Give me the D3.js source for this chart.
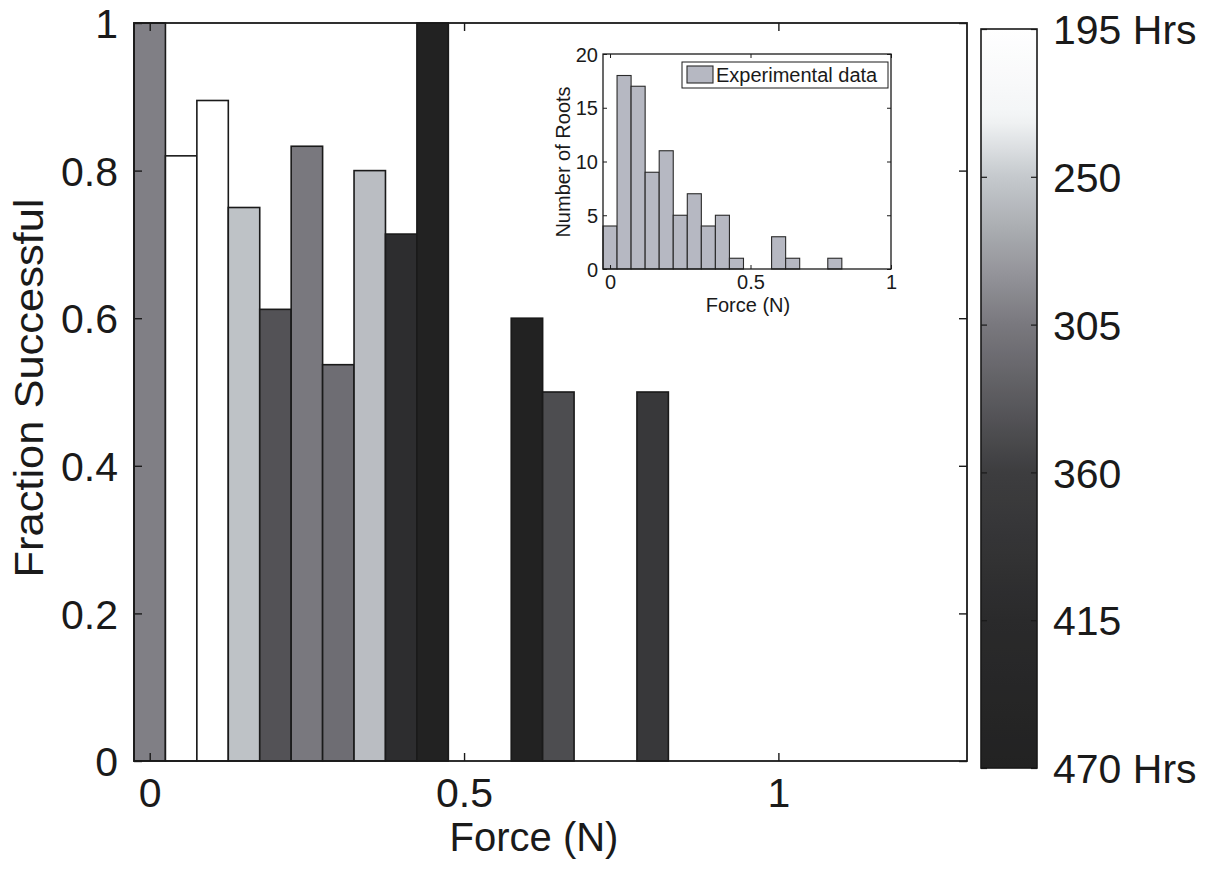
<!DOCTYPE html>
<html>
<head>
<meta charset="utf-8">
<script src="https://cdn.jsdelivr.net/npm/d3@7"></script>
<style>
  html, body { margin: 0; padding: 0; background: #ffffff; }
  svg { display: block; }
  text { font-family: "Liberation Sans", Arial, Helvetica, sans-serif; fill: #1a1a1a; }
</style>
</head>
<body>
<svg id="chart" width="1206" height="869"></svg>
<script>
// ---------------- data ----------------
const binCenters = [0, 0.05, 0.10, 0.15, 0.20, 0.25, 0.30, 0.35, 0.40, 0.45, 0.60, 0.65, 0.80];
const fractionSuccessful = [1.0, 0.82, 0.895, 0.75, 0.612, 0.833, 0.537, 0.80, 0.714, 1.0, 0.60, 0.50, 0.50];
const meanHours = [300, 195, 195, 255, 340, 305, 315, 258, 405, 470, 470, 345, 375];

const xTicks = [0, 0.5, 1];
const xTickLabels = ["0", "0.5", "1"];
const yTicks = [0, 0.2, 0.4, 0.6, 0.8, 1];
const yTickLabels = ["0", "0.2", "0.4", "0.6", "0.8", "1"];

const colorbarTicks = [195, 250, 305, 360, 415, 470];
const colorbarLabels = ["195 Hrs", "250", "305", "360", "415", "470 Hrs"];

// inset histogram
const insetCenters = [0, 0.05, 0.10, 0.15, 0.20, 0.25, 0.30, 0.35, 0.40, 0.45, 0.50, 0.55, 0.60, 0.65, 0.70, 0.75, 0.80];
const insetCounts = [4, 18, 17, 9, 11, 5, 7, 4, 5, 1, 0, 0, 3, 1, 0, 0, 1];
const insetXTicks = [0, 0.5, 1];
const insetXTickLabels = ["0", "0.5", "1"];
const insetYTicks = [0, 5, 10, 15, 20];
const insetYTickLabels = ["0", "5", "10", "15", "20"];

// ---------------- layout ----------------
const svg = d3.select("#chart");
const FONT_BIG = 41;
const binWidth = 0.05;

const main = { left: 134, right: 967, top: 23, bottom: 761 };
const x = d3.scaleLinear().domain([-0.025, 1.3]).range([main.left, main.right]);
const y = d3.scaleLinear().domain([0, 1]).range([main.bottom, main.top]);

// colormap (gray, as in the colorbar)
const cmap = d3.scaleLinear()
  .domain([195, 228, 250, 305, 360, 415, 470])
  .range(["#ffffff", "#f3f5f6", "#c5c9cd", "#79787e", "#3d3d3f", "#2a2a2b", "#222222"])
  .clamp(true);

// ---------------- main bars ----------------
const gMain = svg.append("g");
gMain.selectAll("rect.bar")
  .data(binCenters.map((c, i) => ({ c, v: fractionSuccessful[i], h: meanHours[i] })))
  .join("rect")
  .attr("class", "bar")
  .attr("x", d => x(d.c - binWidth / 2))
  .attr("width", d => x(d.c + binWidth / 2) - x(d.c - binWidth / 2))
  .attr("y", d => y(d.v))
  .attr("height", d => y(0) - y(d.v))
  .attr("fill", d => cmap(d.h))
  .attr("stroke", "#1a1a1a")
  .attr("stroke-width", 1.6);

// frame
gMain.append("rect")
  .attr("x", main.left).attr("y", main.top)
  .attr("width", main.right - main.left).attr("height", main.bottom - main.top)
  .attr("fill", "none").attr("stroke", "#1a1a1a").attr("stroke-width", 1.8);

// axes (inner ticks, MATLAB-like)
const tickLen = 8;
const axB = d3.axisBottom(x).tickValues(xTicks).tickFormat((d, i) => xTickLabels[i]).tickSize(-tickLen).tickPadding(17);
const gxB = gMain.append("g").attr("transform", `translate(0,${main.bottom})`).call(axB);
const axT = d3.axisTop(x).tickValues(xTicks).tickFormat("").tickSize(-tickLen);
const gxT = gMain.append("g").attr("transform", `translate(0,${main.top})`).call(axT);
const axL = d3.axisLeft(y).tickValues(yTicks).tickFormat((d, i) => yTickLabels[i]).tickSize(-tickLen).tickPadding(16);
const gyL = gMain.append("g").attr("transform", `translate(${main.left},0)`).call(axL);
const axR = d3.axisRight(y).tickValues(yTicks).tickFormat("").tickSize(-tickLen);
const gyR = gMain.append("g").attr("transform", `translate(${main.right},0)`).call(axR);

[gxB, gxT, gyL, gyR].forEach(g => {
  g.select(".domain").remove();
  g.selectAll(".tick line").attr("stroke", "#1a1a1a").attr("stroke-width", 1.4);
  g.selectAll("text").attr("font-size", FONT_BIG).attr("fill", "#1a1a1a")
    .attr("font-family", "\"Liberation Sans\", Arial, sans-serif");
});
gxB.selectAll("text").attr("dy", "0.71em");
gyL.selectAll("text").attr("dy", "0.36em");

// axis titles
gMain.append("text")
  .attr("x", 534).attr("y", 851)
  .attr("text-anchor", "middle")
  .attr("font-size", 40)
  .text("Force (N)");

gMain.append("text")
  .attr("transform", "translate(43,388) rotate(-90)")
  .attr("text-anchor", "middle")
  .attr("font-size", 40)
  .attr("textLength", 379)
  .attr("lengthAdjust", "spacingAndGlyphs")
  .text("Fraction Successful");

// ---------------- colorbar ----------------
const cb = { left: 981, right: 1037, top: 29, bottom: 768 };
const cbScale = d3.scaleLinear().domain([195, 470]).range([cb.top, cb.bottom]);
const defs = svg.append("defs");
const grad = defs.append("linearGradient")
  .attr("id", "cbgrad").attr("x1", 0).attr("y1", 0).attr("x2", 0).attr("y2", 1);
d3.range(195, 471, 5).forEach(h => {
  grad.append("stop")
    .attr("offset", (h - 195) / (470 - 195))
    .attr("stop-color", cmap(h));
});
const gCb = svg.append("g");
gCb.append("rect")
  .attr("x", cb.left).attr("y", cb.top)
  .attr("width", cb.right - cb.left).attr("height", cb.bottom - cb.top)
  .attr("fill", "url(#cbgrad)")
  .attr("stroke", "#1a1a1a").attr("stroke-width", 1.6);
const cbAxR = d3.axisRight(cbScale).tickValues(colorbarTicks).tickFormat((d, i) => colorbarLabels[i]).tickSize(-6).tickPadding(16);
const gCbR = gCb.append("g").attr("transform", `translate(${cb.right},0)`).call(cbAxR);
const cbAxL = d3.axisLeft(cbScale).tickValues(colorbarTicks).tickFormat("").tickSize(-6);
const gCbL = gCb.append("g").attr("transform", `translate(${cb.left},0)`).call(cbAxL);
[gCbR, gCbL].forEach(g => {
  g.select(".domain").remove();
  g.selectAll(".tick line").attr("stroke", "#1a1a1a").attr("stroke-width", 1.2);
  g.selectAll("text").attr("font-size", FONT_BIG).attr("fill", "#1a1a1a")
    .attr("font-family", "\"Liberation Sans\", Arial, sans-serif").attr("dy", "0.36em");
});

// ---------------- inset ----------------
const ins = { left: 603, right: 891, top: 54, bottom: 269 };
const xi = d3.scaleLinear().domain([-0.025, 1]).range([ins.left, ins.right]);
const yi = d3.scaleLinear().domain([0, 20]).range([ins.bottom, ins.top]);
const FONT_SMALL = 20;
const insetFill = "#b6b8c2";
const gIns = svg.append("g");
gIns.append("rect")
  .attr("x", ins.left).attr("y", ins.top)
  .attr("width", ins.right - ins.left).attr("height", ins.bottom - ins.top)
  .attr("fill", "#ffffff");
gIns.selectAll("rect.ibar")
  .data(insetCenters.map((c, i) => ({ c, v: insetCounts[i] })).filter(d => d.v > 0))
  .join("rect")
  .attr("class", "ibar")
  .attr("x", d => xi(d.c - binWidth / 2))
  .attr("width", d => xi(d.c + binWidth / 2) - xi(d.c - binWidth / 2))
  .attr("y", d => yi(d.v))
  .attr("height", d => yi(0) - yi(d.v))
  .attr("fill", insetFill)
  .attr("stroke", "#2a2a2a")
  .attr("stroke-width", 1.1);
gIns.append("rect")
  .attr("x", ins.left).attr("y", ins.top)
  .attr("width", ins.right - ins.left).attr("height", ins.bottom - ins.top)
  .attr("fill", "none").attr("stroke", "#1a1a1a").attr("stroke-width", 1.3);

const iTick = 4;
const gixB = gIns.append("g").attr("transform", `translate(0,${ins.bottom})`)
  .call(d3.axisBottom(xi).tickValues(insetXTicks).tickFormat((d, i) => insetXTickLabels[i]).tickSize(-iTick).tickPadding(6));
const gixT = gIns.append("g").attr("transform", `translate(0,${ins.top})`)
  .call(d3.axisTop(xi).tickValues(insetXTicks).tickFormat("").tickSize(-iTick));
const giyL = gIns.append("g").attr("transform", `translate(${ins.left},0)`)
  .call(d3.axisLeft(yi).tickValues(insetYTicks).tickFormat((d, i) => insetYTickLabels[i]).tickSize(-iTick).tickPadding(5));
const giyR = gIns.append("g").attr("transform", `translate(${ins.right},0)`)
  .call(d3.axisRight(yi).tickValues(insetYTicks).tickFormat("").tickSize(-iTick));
[gixB, gixT, giyL, giyR].forEach(g => {
  g.select(".domain").remove();
  g.selectAll(".tick line").attr("stroke", "#1a1a1a").attr("stroke-width", 1);
  g.selectAll("text").attr("font-size", FONT_SMALL).attr("fill", "#1a1a1a")
    .attr("font-family", "\"Liberation Sans\", Arial, sans-serif");
});
gixB.selectAll("text").attr("dy", "0.71em");
giyL.selectAll("text").attr("dy", "0.36em");

gIns.append("text")
  .attr("x", 748).attr("y", 312)
  .attr("text-anchor", "middle")
  .attr("font-size", FONT_SMALL)
  .text("Force (N)");
gIns.append("text")
  .attr("transform", "translate(570,162) rotate(-90)")
  .attr("text-anchor", "middle")
  .attr("font-size", FONT_SMALL)
  .text("Number of Roots");

// legend
const gLeg = gIns.append("g");
gLeg.append("rect")
  .attr("x", 682).attr("y", 62).attr("width", 206).attr("height", 26)
  .attr("fill", "#ffffff").attr("stroke", "#1a1a1a").attr("stroke-width", 1);
gLeg.append("rect")
  .attr("x", 687).attr("y", 66).attr("width", 26).attr("height", 17)
  .attr("fill", insetFill).attr("stroke", "#2a2a2a").attr("stroke-width", 1.1);
gLeg.append("text")
  .attr("x", 716).attr("y", 82)
  .attr("font-size", FONT_SMALL)
  .text("Experimental data");
</script>
</body>
</html>
